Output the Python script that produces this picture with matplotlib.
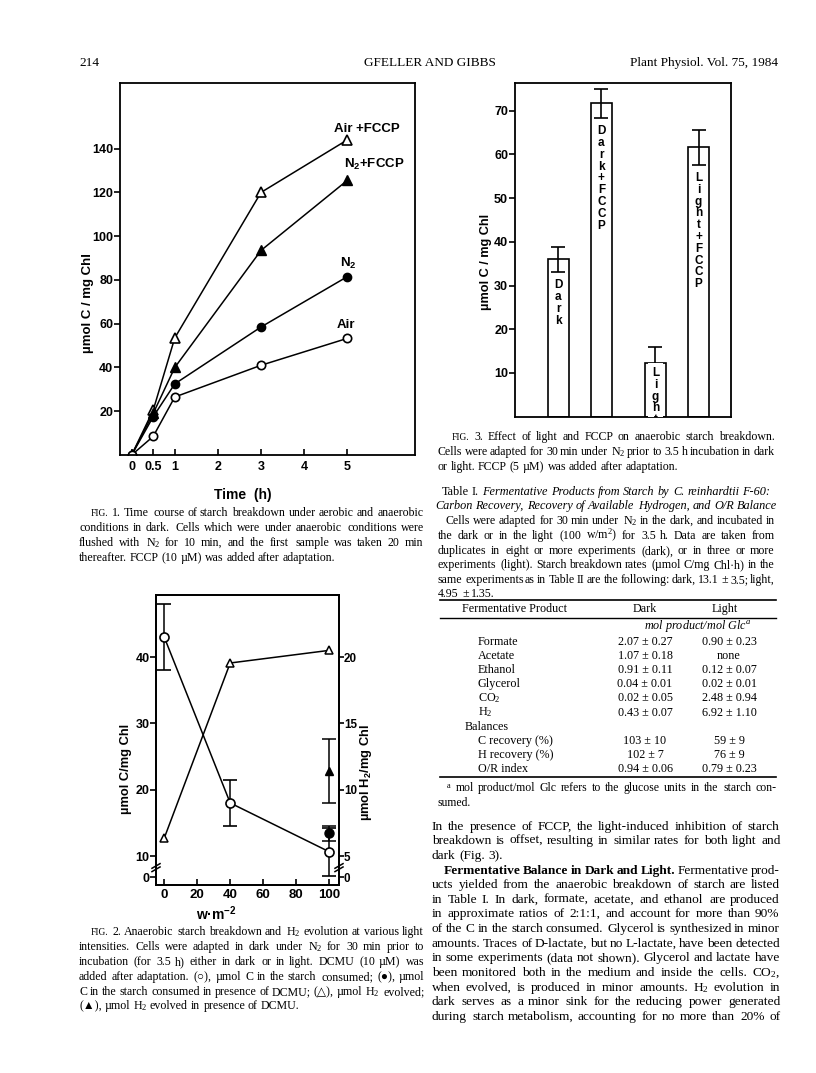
import matplotlib
matplotlib.use('Agg')
import matplotlib.pyplot as plt
from matplotlib.lines import Line2D

plt.rcParams['mathtext.default'] = 'regular'

W, H, DPI = 816, 1073, 100
SANS = 'Liberation Sans'
SERIF = 'Liberation Serif'
SYMBOLS = set('○●△▲')

# Fig. 1 - time course of starch breakdown
time_h = [0, 0.5, 1, 3, 5]
air_fccp = [0, 20.5, 53.5, 120, 144]
n2_fccp = [0, 19, 40, 93.5, 125.5]
n2 = [0, 17.5, 32.5, 58.5, 81.5]
air = [0, 8.5, 26.5, 41, 53.3]
t_ticks = [0, 0.5, 1, 2, 3, 4, 5]
t_labels = ['0', '0.5', '1', '2', '3', '4', '5']
c_ticks1 = [20, 40, 60, 80, 100, 120, 140]

# Fig. 2 - light intensity (w m-2)
light = [0, 40, 100]
starch = [43, 18, 10.65]
starch_err = [5, 3.4, 3.6]
h2 = [6.35, 19.55, 20.5]
dcmu_light = [100]
dcmu_starch = [13.4]
dcmu_starch_err = [1.15]
dcmu_h2 = [11.4]
dcmu_h2_err = [2.4]
light_ticks = [0, 20, 40, 60, 80, 100]
c_ticks2 = [6.83, 10, 20, 30, 40]      # lowest tick sits below the axis break
c_labels2 = ['0', '10', '20', '30', '40']
h_ticks2 = [3.415, 5, 10, 15, 20]
h_labels2 = ['0', '5', '10', '15', '20']

# Fig. 3 - light and FCCP
conds = ['Dark', 'Dark+FCCP', 'Light', 'Light+FCCP']
rates = [36, 71.7, 12.2, 61.6]
rate_err = [2.9, 3.3, 3.8, 4.0]
bar_pos = [1, 2, 3.25, 4.25]
c_ticks3 = [10, 20, 30, 40, 50, 60, 70]

# Table I
products = ['Formate', 'Acetate', 'Ethanol', 'Glycerol', 'CO$_2$', 'H$_2$']
prod_dark = ['2.07 ± 0.27', '1.07 ± 0.18', '0.91 ± 0.11', '0.04 ± 0.01', '0.02 ± 0.05', '0.43 ± 0.07']
prod_light = ['0.90 ± 0.23', 'none', '0.12 ± 0.07', '0.02 ± 0.01', '2.48 ± 0.94', '6.92 ± 1.10']
balances = ['C recovery (%)', 'H recovery (%)', 'O/R index']
bal_dark = ['103 ± 10', '102 ± 7', '0.94 ± 0.06']
bal_light = ['59 ± 9', '76 ± 9', '0.79 ± 0.23']


def fx(x):
    return x / W


def fy(y):
    return 1 - y / H


fig = plt.figure(figsize=(W / DPI, H / DPI), dpi=DPI)
fig.patch.set_facecolor('white')
R = fig.canvas.get_renderer()


def words(text, size):
    objs = []
    for w in text.split(' '):
        fam = [SERIF, 'DejaVu Sans'] if SYMBOLS & set(w) else SERIF
        kw = dict(family=fam, size=size)
        if w.startswith('*'):
            w = w[1:]
            kw['weight'] = 'bold'
        elif w.startswith('~'):
            w = w[1:]
            kw['style'] = 'italic'
        elif w.startswith('^'):
            w = w[1:]
            kw['size'] = size * 0.8
        objs.append(fig.text(0, 0, w, ha='left', va='baseline', **kw))
    return objs, [t.get_window_extent(R).width for t in objs]


def place(objs, widths, x, y, size, space):
    base = round(y + size * DPI / 72 * 0.28)
    for t, w in zip(objs, widths):
        t.set_position((fx(round(x)), fy(base)))
        x += w + space


def line(x0, x1, y, text, size, justify=True):
    # one line of type, words spread out to fill x0..x1 when justified
    objs, widths = words(text, size)
    space = size * 0.25 * DPI / 72
    if justify and len(objs) > 1:
        space = (x1 - x0 - sum(widths)) / (len(objs) - 1)
    place(objs, widths, x0, y, size, space)


def cline(xc, y, text, size):
    objs, widths = words(text, size)
    space = size * 0.25 * DPI / 72
    total = sum(widths) + space * (len(objs) - 1)
    place(objs, widths, xc - total / 2, y, size, space)


def para(x0, x1, y0, lh, lines, size, indent=12):
    for i, s in enumerate(lines):
        last = i == len(lines) - 1
        xs = x0
        if s.startswith('>'):
            s = s[1:]
            xs = x0 + indent
        line(xs, x1, y0 + i * lh, s, size, justify=not last)


def hrule(x0, x1, y, lw=1.0):
    fig.add_artist(Line2D([fx(x0), fx(x1)], [fy(y), fy(y)], lw=lw, color='k'))


# running head
fig.text(fx(79), fy(66), '214', family=SERIF, size=9.5, ha='left', va='baseline')
fig.text(fx(430), fy(66), 'GFELLER AND GIBBS', family=SERIF, size=9.5, ha='center', va='baseline')
fig.text(fx(778), fy(66), 'Plant Physiol. Vol. 75, 1984', family=SERIF, size=9.5, ha='right', va='baseline')

bold = dict(family=SANS, weight='bold')

# ---------------- Fig. 1 ----------------
ax1 = fig.add_axes([fx(120), fy(455), (415 - 120) / W, (455 - 83) / H])
ax1.plot(time_h, air_fccp, '-^', color='k', mfc='white', ms=7, lw=1.1, mew=1.2)
ax1.plot(time_h[1:], n2_fccp[1:], '^', color='k', ms=7, lw=1.1)
ax1.plot(time_h, n2_fccp, '-', color='k', lw=1.1)
ax1.plot(time_h, n2, '-o', color='k', ms=6, lw=1.1)
ax1.plot(time_h, air, '-o', color='k', mfc='white', ms=6, lw=1.1, mew=1.2)
ax1.set_xlim(-0.27, 6.57)
ax1.set_ylim(0, 170)
ax1.set_xticks(t_ticks)
ax1.set_xticklabels(t_labels)
ax1.set_yticks(c_ticks1)
ax1.tick_params(axis='x', direction='in', length=4, width=1.2, pad=4)
ax1.tick_params(axis='y', direction='out', length=4, width=1.2, pad=1)
for lab in ax1.get_xticklabels() + ax1.get_yticklabels():
    lab.set_fontproperties(matplotlib.font_manager.FontProperties(family=SANS, weight='bold', size=9))
for sp in ax1.spines.values():
    sp.set_linewidth(1.3)
ax1.text(5.46, 149, 'Air +FCCP', ha='center', va='center', size=9.5, **bold)
ax1.text(5.63, 133, 'N$_2$+FCCP', ha='center', va='center', size=9.5, **bold)
ax1.text(5.02, 87.5, 'N$_2$', ha='center', va='center', size=9.5, **bold)
ax1.text(4.97, 59.5, 'Air', ha='center', va='center', size=9.5, **bold)
fig.text(fx(88), fy(303), 'µmol C / mg Chl', rotation=90, ha='center', va='center', size=9.5, **bold)
fig.text(fx(243), fy(495), 'Time  (h)', ha='center', va='center', size=10, **bold)

para(79, 424, 513, 15, [
    '>^FIG. 1. Time course of starch breakdown under aerobic and anaerobic',
    'conditions in dark. Cells which were under anaerobic conditions were',
    'flushed with N$_2$ for 10 min, and the first sample was taken 20 min',
    'thereafter. FCCP (10 µM) was added after adaptation.'], 8.6)

# ---------------- Fig. 2 ----------------
ax2 = fig.add_axes([fx(156), fy(885), (339 - 156) / W, (885 - 595) / H])
ax2r = ax2.twinx()
ax2.errorbar(light, starch, yerr=starch_err, fmt='-o', color='k', mfc='white', ms=6.5,
             lw=1.1, mew=1.2, capsize=5, elinewidth=1.1, capthick=1.1, zorder=3)
ax2.errorbar(dcmu_light, dcmu_starch, yerr=dcmu_starch_err, fmt='o', color='k', ms=6.5,
             capsize=5, elinewidth=1.1, capthick=1.1, zorder=2)
ax2r.plot(light, h2, '-^', color='k', mfc='white', ms=6, lw=1.1, mew=1.1)
ax2r.errorbar(dcmu_light, dcmu_h2, yerr=dcmu_h2_err, fmt='^', color='k', ms=5.5,
              capsize=5, elinewidth=1.1, capthick=1.1)
ax2.set_xlim(-5, 106)
ax2.set_ylim(5.63, 49.35)
ax2r.set_ylim(5.63 / 2, 49.35 / 2)
ax2.set_xticks(light_ticks)
ax2.set_yticks(c_ticks2)
ax2.set_yticklabels(c_labels2)
ax2r.set_yticks(h_ticks2)
ax2r.set_yticklabels(h_labels2)
ax2.tick_params(axis='x', direction='in', length=4, width=1.2, pad=3)
ax2.tick_params(axis='y', direction='out', length=4, width=1.2, pad=0.5)
ax2r.tick_params(axis='y', direction='out', length=3.5, width=1.2, pad=0)
fp = matplotlib.font_manager.FontProperties(family=SANS, weight='bold', size=9.5)
fpl = matplotlib.font_manager.FontProperties(family=SANS, weight='bold', size=9)
fps = matplotlib.font_manager.FontProperties(family=SANS, weight='bold', size=8.4)
for lab in ax2.get_xticklabels():
    lab.set_fontproperties(fp)
for lab in ax2.get_yticklabels():
    lab.set_fontproperties(fpl)
for lab in ax2r.get_yticklabels():
    lab.set_fontproperties(fps)
for a in (ax2, ax2r):
    for sp in a.spines.values():
        sp.set_linewidth(1.3)
# axis break marks
for xa in (0, 1):
    for dy in (0, 0.5):
        ax2.plot([xa - 0.022, xa + 0.022], [8.15 - dy, 8.85 - dy], color='k', lw=1.1,
                 transform=ax2.get_yaxis_transform(), clip_on=False)
fig.text(fx(126), fy(769), 'µmol C/mg Chl', rotation=90, ha='center', va='center', size=9.3, **bold)
fig.text(fx(366), fy(773), 'µmol H$_2$/mg Chl', rotation=90, ha='center', va='center', size=9.3, **bold)
fig.text(fx(216), fy(914), 'w·m$^{-2}$', ha='center', va='center', size=10, **bold)

para(79, 424, 932, 14.8, [
    '>^FIG. 2. Anaerobic starch breakdown and H$_2$ evolution at various light',
    'intensities. Cells were adapted in dark under N$_2$ for 30 min prior to',
    'incubation (for 3.5 h) either in dark or in light. DCMU (10 µM) was',
    'added after adaptation. (○), µmol C in the starch consumed; (●), µmol',
    'C in the starch consumed in presence of DCMU; (△), µmol H$_2$ evolved;',
    '(▲), µmol H$_2$ evolved in presence of DCMU.'], 8.6)

# ---------------- Fig. 3 ----------------
ax3 = fig.add_axes([fx(515), fy(416.7), 216 / W, (416.7 - 82.7) / H])
ax3.bar(bar_pos, rates, width=0.49, color='white', edgecolor='k', lw=1.2, zorder=2)
ax3.errorbar(bar_pos, rates, yerr=rate_err, fmt='none', ecolor='k', capsize=5,
             elinewidth=1.2, capthick=1.2, zorder=3)
label_gap = [4.6, 5.0, 0.8, 5.6]
for xp, v, g, name in zip(bar_pos, rates, label_gap, conds):
    ax3.text(xp, v - g, '\n'.join(name), ha='center', va='top', size=8.5,
             linespacing=0.98, zorder=4, clip_on=True,
             bbox=dict(facecolor='white', edgecolor='none', pad=3), **bold)
ax3.set_xlim(0, 5)
ax3.set_ylim(0, 76.4)
ax3.set_xticks([])
ax3.set_yticks(c_ticks3)
ax3.tick_params(axis='y', direction='out', length=4, width=1.2, pad=1)
for lab in ax3.get_yticklabels():
    lab.set_fontproperties(matplotlib.font_manager.FontProperties(family=SANS, weight='bold', size=9))
for sp in ax3.spines.values():
    sp.set_linewidth(1.3)
fig.text(fx(486), fy(262), 'µmol C / mg Chl', rotation=90, ha='center', va='center', size=9.2, **bold)

para(438, 775, 437, 14.6, [
    '>^FIG. 3. Effect of light and FCCP on anaerobic starch breakdown.',
    'Cells were adapted for 30 min under N$_2$ prior to 3.5 h incubation in dark',
    'or light. FCCP (5 µM) was added after adaptation.'], 8.6, indent=14)

# ---------------- Table I ----------------
cline(606, 492, 'Table I. ~Fermentative ~Products ~from ~Starch ~by ~C. ~reinhardtii ~F-60:', 8.8)
cline(606, 506, '~Carbon ~Recovery, ~Recovery ~of ~Available ~Hydrogen, ~and ~O/R ~Balance', 8.8)

para(438, 775, 521, 14.6, [
    '>Cells were adapted for 30 min under N$_2$ in the dark, and incubated in',
    'the dark or in the light (100 w/m$^2$) for 3.5 h. Data are taken from',
    'duplicates in eight or more experiments (dark), or in three or more',
    'experiments (light). Starch breakdown rates (µmol C/mg Chl·h) in the',
    'same experiments as in Table II are the following: dark, 13.1 ± 3.5; light,',
    '4.95 ± 1.35.'], 8.6, indent=8)

tt = dict(family=SERIF, size=8.7, va='baseline')
hrule(440, 776, 600, 1.2)
fig.text(fx(462), fy(612), 'Fermentative Product', ha='left', **tt)
fig.text(fx(645), fy(612), 'Dark', ha='center', **tt)
fig.text(fx(725), fy(612), 'Light', ha='center', **tt)
hrule(440, 776, 617.5, 1.0)
fig.text(fx(698), fy(629), 'mol product/mol Glc$^a$', ha='center', style='italic', **tt)
row_y = 645
for name, d, l in zip(products, prod_dark, prod_light):
    fig.text(fx(478), fy(row_y), name, ha='left', **tt)
    fig.text(fx(645), fy(row_y), d, ha='center', **tt)
    fig.text(fx(729), fy(row_y), l, ha='center', **tt)
    row_y += 14.1
fig.text(fx(465), fy(row_y), 'Balances', ha='left', **tt)
row_y += 14.1
for name, d, l in zip(balances, bal_dark, bal_light):
    fig.text(fx(478), fy(row_y), name, ha='left', **tt)
    fig.text(fx(645), fy(row_y), d, ha='center', **tt)
    fig.text(fx(729), fy(row_y), l, ha='center', **tt)
    row_y += 14.1
hrule(440, 776, 776.5, 1.2)

para(438, 776, 788, 14.6, [
    '>$^a$ mol product/mol Glc refers to the glucose units in the starch con-',
    'sumed.'], 8.5, indent=8)

# ---------------- body text ----------------
body = [
    'In the presence of FCCP, the light-induced inhibition of starch',
    'breakdown is offset, resulting in similar rates for both light and',
    'dark (Fig. 3).',
]
para(432, 780, 826, 14.62, body, 9.6)
body2 = [
    '>*Fermentative *Balance *in *Dark *and *Light. Fermentative prod-',
    'ucts yielded from the anaerobic breakdown of starch are listed',
    'in Table I. In dark, formate, acetate, and ethanol are produced',
    'in approximate ratios of 2:1:1, and account for more than 90%',
    'of the C in the starch consumed. Glycerol is synthesized in minor',
    'amounts. Traces of D-lactate, but no L-lactate, have been detected',
    'in some experiments (data not shown). Glycerol and lactate have',
    'been monitored both in the medium and inside the cells. CO$_2$,',
    'when evolved, is produced in minor amounts. H$_2$ evolution in',
    'dark serves as a minor sink for the reducing power generated',
    'during starch metabolism, accounting for no more than 20% of',
]
for i, s in enumerate(body2):
    xs = 444 if s.startswith('>') else 432
    line(xs, 780, 826 + (3 + i) * 14.62, s.lstrip('>'), 9.6, justify=True)

fig.savefig('out.png', dpi=DPI, facecolor='white')
